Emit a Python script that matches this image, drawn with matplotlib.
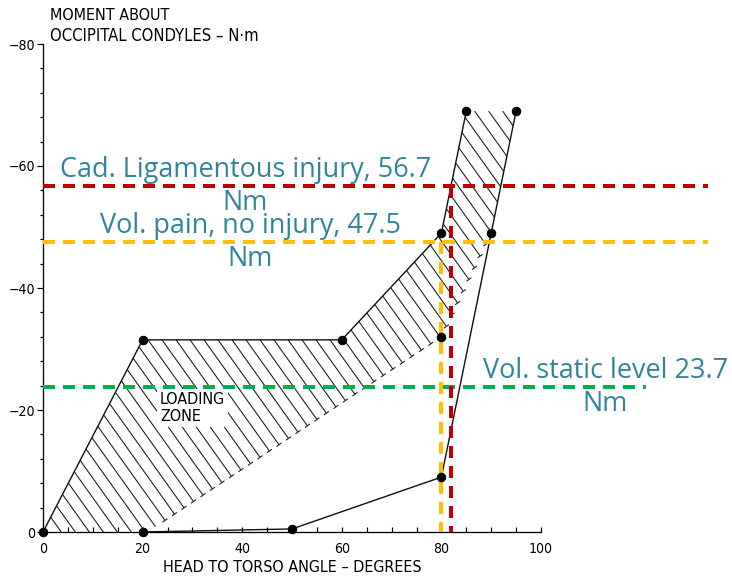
import numpy as np
import matplotlib
matplotlib.use('Agg')
import matplotlib.pyplot as plt
from matplotlib.patches import Polygon

# hatched loading zone (head-to-torso angle in degrees, moment in N·m)
zone_x = [0, 20, 60, 80, 85, 95, 90, 80, 21]
zone_y = [0, -31.5, -31.5, -49, -69, -69, -49, -32, 0]

# solid boundary curves
upper_x = [0, 20, 60, 80, 85]
upper_y = [0, -31.5, -31.5, -49, -69]
lower_x = [95, 90, 80, 50, 20]
lower_y = [-69, -49, -9, -0.5, 0]

# measured points
pts_x = [0, 20, 60, 80, 85, 95, 90, 80, 80, 50, 20]
pts_y = [0, -31.5, -31.5, -49, -69, -69, -49, -32, -9, -0.5, 0]

# tolerance levels
limit_labels = ['Cad. Ligamentous injury, 56.7\nNm',
                'Vol. pain, no injury, 47.5\nNm',
                'Vol. static level 23.7\nNm']
limit_values = [56.7, 47.5, 23.7]
limit_ends = [133.5, 133.5, 121]
limit_text_x = [40.6, 41.6, 112.9]
limit_colors = ['#C00000', '#FFC000', '#00B050']

W, H = 732, 581
SX, SY = 4.98, 6.1          # pixels per degree / per N·m
scan_font = dict(family='DejaVu Sans', stretch='condensed')

fig = plt.figure(figsize=(W / 72, H / 72), dpi=72)
ax = fig.add_axes([43 / W, 49 / H, 689 / W, 488 / H])
ax.set_xlim(0, 689 / SX)
ax.set_ylim(0, -80)

zone = Polygon(list(zip(zone_x, zone_y)), closed=True, fill=False, lw=0)
ax.add_patch(zone)


def to_px(x, y):
    return x * SX, -y * SY


# hatch lines run down-right on screen: py = -K * px + c
K = 1.4
gap = 14.0 * K


def hatch_y(x, c):
    return (K * SX * x - c) / SY


cs = np.arange(6, 1100, gap)
xs = np.array([-10.0, 150.0])
for c in cs:
    ln, = ax.plot(xs, hatch_y(xs, c), color='#222222', lw=1.1)
    ln.set_clip_path(zone)

# small end bars where the hatching stops on the open edges
open_edges = [((21, 0), (80, -32)), ((80, -32), (90, -49))]
bar = 2.5
perp = np.array([K, 1.0]) / np.hypot(K, 1.0)
for (ex0, ey0), (ex1, ey1) in open_edges:
    p0 = np.array(to_px(ex0, ey0))
    p1 = np.array(to_px(ex1, ey1))
    d = p1 - p0
    for c in cs:
        t = (c - p0[1] - K * p0[0]) / (d[1] + K * d[0])
        if t < 0.03 or t > 0.97:
            continue
        p = p0 + t * d
        q = np.array([p - bar * perp, p + bar * perp])
        ax.plot(q[:, 0] / SX, -q[:, 1] / SY, color='#222222', lw=1.1)

ax.plot(upper_x, upper_y, color='#111111', lw=1.4)
ax.plot(lower_x, lower_y, color='#111111', lw=1.4)

ax.text(23.5, -20.3, 'LOADING\nZONE', fontsize=16, ha='left', va='center',
        linespacing=1.2, zorder=2.5,
        bbox=dict(facecolor='white', edgecolor='none', pad=3), **scan_font)

# threshold lines and their labels
for lab, val, end, tx, col in zip(limit_labels, limit_values, limit_ends,
                                  limit_text_x, limit_colors):
    ax.plot([0, end], [-val, -val], color=col, lw=4, dashes=(3, 2),
            clip_on=False, zorder=3)
    ax.text(tx, -val, lab, color='#31849B', fontsize=27, family='Open Sans',
            weight='medium', ha='center', va='center',
            multialignment='center', linespacing=1.25, zorder=5)

# drop lines from the pain and injury levels
red_x = 80 + (85 - 80) * (limit_values[0] - 49) / (69 - 49)
ax.plot([80, 80], [-limit_values[1], 0], color=limit_colors[1], lw=4,
        dashes=(3, 2), zorder=3)
ax.plot([red_x, red_x], [-limit_values[0], 0], color=limit_colors[0], lw=4,
        dashes=(3, 2), zorder=3)

ax.plot(pts_x, pts_y, 'o', color='black', ms=8.5, clip_on=False, zorder=4)

# axes styling
for s in ['top', 'right']:
    ax.spines[s].set_visible(False)
ax.spines['bottom'].set_bounds(0, 100)
ax.spines['left'].set_linewidth(1.3)
ax.spines['bottom'].set_linewidth(1.3)
ax.set_xticks([0, 20, 40, 60, 80, 100])
ax.set_xticks(list(range(0, 101, 5)), minor=True)
ax.set_yticks([-80, -60, -40, -20, 0])
ax.set_yticks(list(range(-80, 1, 4)), minor=True)
ax.tick_params(axis='x', which='both', direction='in', length=5, width=1.2,
               pad=10, labelsize=14)
ax.tick_params(axis='y', which='major', direction='out', length=6, width=1.2,
               pad=2, labelsize=14)
ax.tick_params(axis='y', which='minor', direction='out', length=3, width=1.2)
for t in ax.get_xticklabels() + ax.get_yticklabels():
    t.set_family('DejaVu Sans')
    t.set_stretch('condensed')

ax.text(1.4, -84.75, 'MOMENT ABOUT', fontsize=16, ha='left', va='center',
        clip_on=False, **scan_font)
ax.text(1.4, -81.3, 'OCCIPITAL CONDYLES \u2013 N\u00b7m', fontsize=16.5,
        ha='left', va='center', clip_on=False, **scan_font)
ax.text(50, 5.9, 'HEAD TO TORSO ANGLE \u2013 DEGREES', fontsize=16,
        ha='center', va='center', clip_on=False, **scan_font)

fig.savefig('out.png', dpi=72)
